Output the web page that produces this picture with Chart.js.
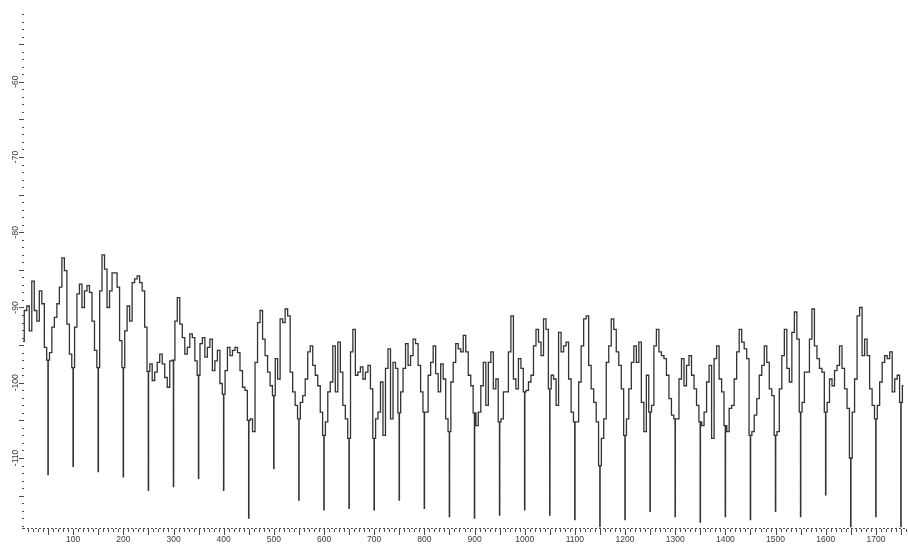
<!DOCTYPE html>
<html>
<head>
<meta charset="utf-8">
<script src="https://cdn.jsdelivr.net/npm/chart.js@4.4.1/dist/chart.umd.min.js"></script>
<style>
  html, body { margin: 0; padding: 0; background: #fff; }
  #wrap { width: 908px; height: 546px; }
</style>
</head>
<body>
<div id="wrap"><canvas id="spectrum" width="908" height="546"></canvas></div>
<script>
// sample spacing on the horizontal axis
const step = 5;

// trace level in dB, one value every 5 units starting at 0
// (each row starts on a multiple of 50)
const levels = [
  -94.5, -90.4, -89.8, -93.1, -86.5, -90.4, -91.8, -87.8, -89.5, -95.3,
  -97.0, -96.0, -92.6, -91.3, -89.5, -87.3, -83.4, -85.1, -92.2, -96.2,
  -98.0, -92.6, -88.2, -86.9, -90.0, -87.8, -87.1, -88.0, -91.8, -95.7,
  -98.0, -87.8, -83.0, -84.9, -90.0, -87.8, -85.4, -85.4, -87.3, -94.4,
  -98.0, -93.1, -89.8, -91.8, -86.7, -86.2, -85.8, -86.7, -87.8, -92.6,
  -98.5, -97.5, -99.7, -98.6, -97.3, -96.2, -97.5, -99.3, -100.6, -97.1,
  -97.0, -91.8, -88.7, -92.2, -94.0, -96.2, -95.3, -93.5, -94.0, -97.1,
  -99.0, -94.8, -94.0, -96.6, -95.3, -94.2, -98.4, -97.1, -95.7, -100.1,
  -101.5, -98.4, -95.3, -96.4, -95.7, -95.3, -96.0, -98.4, -100.6, -101.0,
  -105.0, -104.8, -106.5, -97.3, -92.0, -90.4, -94.2, -96.4, -98.6, -100.4,
  -101.7, -96.8, -99.5, -91.5, -92.0, -90.2, -91.1, -98.6, -101.2, -103.0,
  -104.8, -102.6, -101.7, -99.5, -95.9, -95.1, -97.7, -99.0, -100.4, -103.9,
  -107.0, -105.2, -101.2, -99.9, -95.1, -101.2, -94.6, -98.6, -103.0, -104.8,
  -107.4, -95.9, -92.9, -99.0, -98.6, -97.9, -99.5, -98.6, -97.7, -100.8,
  -107.4, -104.8, -103.9, -99.9, -107.0, -98.1, -95.5, -104.8, -97.3, -98.1,
  -104.0, -101.2, -98.1, -94.8, -97.7, -96.4, -94.2, -94.8, -97.7, -101.2,
  -103.9, -103.9, -99.0, -97.3, -95.1, -98.8, -101.2, -97.5, -99.5, -104.8,
  -106.5, -99.9, -97.3, -94.8, -95.5, -95.9, -93.7, -95.9, -99.0, -100.4,
  -104.0, -105.7, -103.9, -100.4, -97.3, -103.0, -97.3, -95.9, -100.8, -99.5,
  -105.2, -104.8, -101.2, -101.2, -95.9, -91.1, -99.5, -100.8, -96.8, -98.1,
  -101.2, -101.0, -99.9, -99.0, -95.1, -92.9, -94.6, -96.4, -91.5, -92.9,
  -100.8, -99.0, -99.5, -103.0, -93.3, -95.9, -95.1, -94.6, -99.5, -103.9,
  -105.2, -105.2, -99.9, -95.1, -91.5, -91.1, -97.7, -100.8, -102.6, -105.2,
  -111.0, -107.4, -104.8, -97.3, -95.1, -91.5, -92.9, -95.9, -97.7, -100.8,
  -107.0, -104.8, -100.8, -97.3, -95.1, -97.3, -94.6, -102.6, -106.5, -99.0,
  -103.9, -103.0, -95.1, -92.9, -95.9, -96.4, -96.8, -99.0, -102.1, -104.3,
  -104.8, -104.8, -99.5, -96.8, -100.4, -97.7, -96.4, -99.0, -100.8, -103.0,
  -105.2, -105.7, -103.9, -99.9, -97.7, -107.4, -96.8, -95.1, -99.5, -101.2,
  -105.7, -106.5, -103.4, -103.0, -99.5, -95.9, -92.9, -94.6, -95.5, -96.8,
  -107.0, -106.5, -104.3, -102.1, -99.0, -97.7, -95.1, -97.3, -100.8, -101.7,
  -107.0, -106.5, -100.8, -96.4, -92.9, -98.1, -99.9, -93.3, -90.6, -94.2,
  -103.9, -102.6, -98.6, -98.6, -94.2, -90.2, -95.1, -96.8, -98.1, -98.6,
  -103.9, -102.6, -99.5, -100.4, -98.4, -97.7, -95.1, -98.1, -100.8, -103.4,
  -110.0, -103.9, -99.5, -91.1, -90.0, -96.4, -94.2, -96.4, -100.8, -103.0,
  -104.8, -103.0, -99.9, -97.3, -96.4, -96.8, -95.9, -101.2, -99.5, -99.0,
  -102.6, -100.4
];

// narrow drops every 50 units: position and bottom level in dB
const dropAt = [50, 100, 150, 200, 250, 300, 350, 400, 450, 500, 550, 600,
  650, 700, 750, 800, 850, 900, 950, 1000, 1050, 1100, 1150, 1200, 1250,
  1300, 1350, 1400, 1450, 1500, 1550, 1600, 1650, 1700, 1750];
const dropLevel = [-112.2, -111.1, -111.8, -112.5, -114.3, -113.8, -112.7,
  -114.3, -118.0, -111.4, -115.6, -116.9, -116.7, -116.9, -115.6, -116.7,
  -117.8, -118.0, -117.6, -116.9, -117.6, -118.2, -119.1, -118.2, -117.1,
  -117.8, -118.5, -117.8, -118.2, -117.1, -117.8, -114.9, -119.1, -117.8,
  -119.1];

// axis ranges and labelled ticks
const xRange = [0, 1760];
const yRange = [-119.3, -51];
const xLabels = [100, 200, 300, 400, 500, 600, 700, 800, 900, 1000, 1100, 1200, 1300, 1400, 1500, 1600, 1700];
const yLabels = [-60, -70, -80, -90, -100, -110];

// merge the trace with the drops (a drop leaves and returns to the trace level)
const points = [];
levels.forEach((v, i) => {
  const x = i * step;
  const d = dropAt.indexOf(x);
  if (d < 0) {
    points.push({ x, y: v });
  } else {
    points.push({ x: x - 0.6, y: v });
    points.push({ x, y: dropLevel[d] });
    points.push({ x: x + 0.6, y: v });
  }
});

const inkColor = '#4a4a4a';
const labelFont = '8.5px "Liberation Sans", Arial, sans-serif';

// dotted axes with small/medium marks, and rotated level labels
const axisMarks = {
  id: 'axisMarks',
  afterDraw(chart) {
    const ctx = chart.ctx;
    const xs = chart.scales.x, ys = chart.scales.y;
    const area = chart.chartArea;
    ctx.save();
    ctx.fillStyle = inkColor;
    ctx.strokeStyle = inkColor;

    // left axis: a dot per dB, longer mark every 5 dB
    for (let v = Math.ceil(yRange[0]); v <= Math.floor(yRange[1]); v++) {
      const py = Math.round(ys.getPixelForValue(v));
      if (v % 5 === 0) ctx.fillRect(area.left - 4, py, 5, 1);
      else ctx.fillRect(area.left - 1, py, 2, 1);
    }
    ctx.fillRect(area.left - 1, Math.round(area.bottom), 2, 1);

    // bottom axis: dashed baseline with ticks every 10, longer every 50
    ctx.lineWidth = 1;
    ctx.setLineDash([2, 2]);
    ctx.beginPath();
    ctx.moveTo(area.left, Math.round(area.bottom) + 0.5);
    ctx.lineTo(area.right, Math.round(area.bottom) + 0.5);
    ctx.stroke();
    ctx.setLineDash([]);
    for (let t = 10; t <= xRange[1]; t += 10) {
      const px = Math.round(xs.getPixelForValue(t)) + 0.5;
      const len = t % 50 === 0 ? 6 : 3;
      ctx.beginPath();
      ctx.moveTo(px, area.bottom + 1);
      ctx.lineTo(px, area.bottom + 1 + len);
      ctx.stroke();
    }

    // level labels, written bottom to top
    ctx.font = labelFont;
    ctx.fillStyle = '#3a3a3a';
    ctx.textAlign = 'center';
    ctx.textBaseline = 'middle';
    yLabels.forEach(v => {
      const py = ys.getPixelForValue(v);
      ctx.save();
      ctx.translate(16, py);
      ctx.rotate(-Math.PI / 2);
      ctx.fillText(String(v), 0, 0);
      ctx.restore();
    });
    ctx.restore();
  }
};

new Chart(document.getElementById('spectrum'), {
  type: 'line',
  data: {
    datasets: [{
      data: points,
      borderColor: '#333333',
      borderWidth: 1.3,
      pointRadius: 0,
      stepped: 'middle',
      fill: false
    }]
  },
  options: {
    responsive: false,
    animation: false,
    layout: { padding: { top: 14, right: 2, left: 0, bottom: 0 } },
    plugins: { legend: { display: false }, tooltip: { enabled: false } },
    scales: {
      x: {
        type: 'linear',
        min: xRange[0],
        max: xRange[1],
        grid: { display: false, drawTicks: false },
        border: { display: false },
        afterBuildTicks: s => { s.ticks = xLabels.map(v => ({ value: v })); },
        afterFit: s => { s.height = 18; },
        ticks: {
          autoSkip: false,
          maxRotation: 0,
          padding: 7,
          color: '#3a3a3a',
          font: { family: '"Liberation Sans", Arial, sans-serif', size: 8.5 },
          callback: v => String(v)
        }
      },
      y: {
        type: 'linear',
        min: yRange[0],
        max: yRange[1],
        grid: { display: false, drawTicks: false },
        border: { display: false },
        afterFit: s => { s.width = 23; },
        ticks: { display: false, stepSize: 10 }
      }
    }
  },
  plugins: [axisMarks]
});
</script>
</body>
</html>
